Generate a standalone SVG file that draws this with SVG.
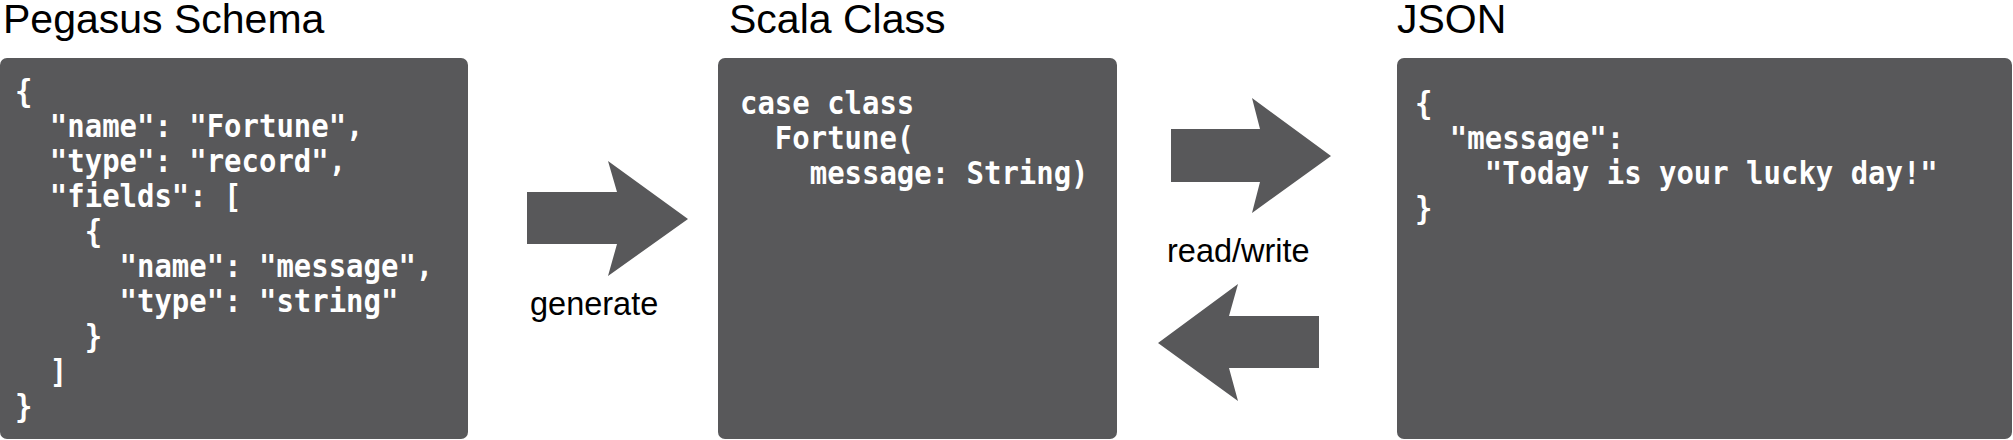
<svg xmlns="http://www.w3.org/2000/svg" width="2013" height="440" viewBox="0 0 2013 440">
  <style>
    .title { font-family: "Liberation Sans", Arial, sans-serif; font-size: 41px; fill: #000; }
    .label { font-family: "Liberation Sans", Arial, sans-serif; font-size: 32.5px; fill: #000; }
    .box { fill: #58585a; }
    .code { font-family: "DejaVu Sans Mono", "Liberation Mono", monospace; font-weight: bold; font-size: 32px; fill: #ffffff; white-space: pre; }
    .arrow { fill: #58585a; }
  </style>

  <g id="pegasus-schema">
    <text class="title" x="3" y="33">Pegasus Schema</text>
    <rect class="box" x="0" y="58" width="468" height="381" rx="7" ry="7"/>
    <text class="code" transform="translate(15,102) scale(0.905,1)">
      <tspan x="0" y="0">{</tspan>
      <tspan x="38.53" y="35">"name": "Fortune",</tspan>
      <tspan x="38.53" y="70">"type": "record",</tspan>
      <tspan x="38.53" y="105">"fields": [</tspan>
      <tspan x="77.06" y="140">{</tspan>
      <tspan x="115.58" y="175">"name": "message",</tspan>
      <tspan x="115.58" y="210">"type": "string"</tspan>
      <tspan x="77.06" y="245">}</tspan>
      <tspan x="38.53" y="280">]</tspan>
      <tspan x="0" y="315">}</tspan>
    </text>
  </g>

  <g id="scala-class">
    <text class="title" x="729" y="33">Scala Class</text>
    <rect class="box" x="718" y="58" width="399" height="381" rx="7" ry="7"/>
    <text class="code" transform="translate(740,114) scale(0.905,1)">
      <tspan x="0" y="0">case class</tspan>
      <tspan x="38.53" y="35">Fortune(</tspan>
      <tspan x="77.06" y="70">message: String)</tspan>
    </text>
  </g>

  <g id="json">
    <text class="title" x="1397" y="33">JSON</text>
    <rect class="box" x="1397" y="58" width="615" height="381" rx="7" ry="7"/>
    <text class="code" transform="translate(1415,114) scale(0.905,1)">
      <tspan x="0" y="0">{</tspan>
      <tspan x="38.53" y="35">"message":</tspan>
      <tspan x="77.06" y="70">"Today is your lucky day!"</tspan>
      <tspan x="0" y="105">}</tspan>
    </text>
  </g>

  <g id="connectors">
    <g id="generate-arrow">
      <polygon class="arrow" points="527,192 617,192 608,161 688,219 608,276 617,244 527,244"/>
      <text class="label" x="530" y="315">generate</text>
    </g>
    <g id="read-write-arrows">
      <polygon class="arrow" points="1171,129 1260,129 1252,98 1331,156 1252,213 1260,182 1171,182"/>
      <polygon class="arrow" points="1319,316 1229,316 1238,284 1158,343 1238,401 1229,368 1319,368"/>
      <text class="label" x="1167" y="262">read/write</text>
    </g>
  </g>
</svg>
